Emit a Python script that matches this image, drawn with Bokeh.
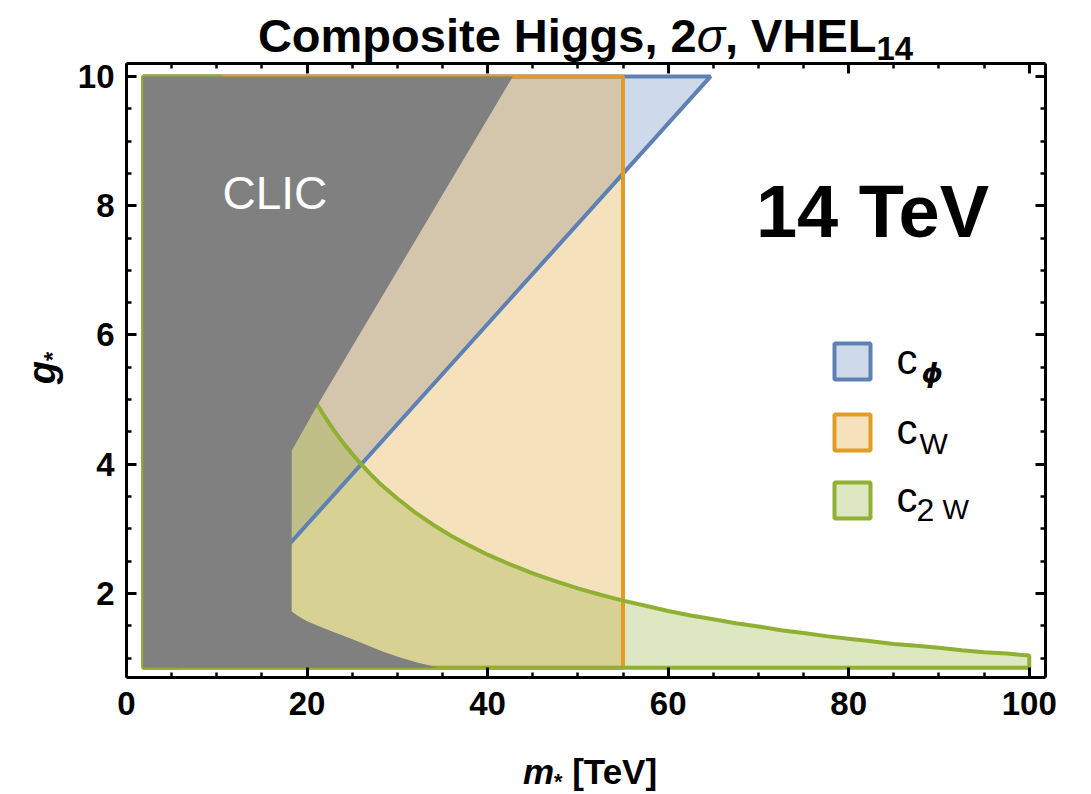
from bokeh.plotting import figure
from bokeh.models import Range1d, LinearAxis, Label, FixedTicker, Div
from bokeh.layouts import column, row
from bokeh.embed import file_html
from bokeh.resources import INLINE

# ---- axis ranges ----------------------------------------------------------
m_lo, m_hi = 0.0, 101.8
g_lo, g_hi = 0.7, 10.2

x_major = [0, 20, 40, 60, 80, 100]
x_minor = [5, 10, 15, 25, 30, 35, 45, 50, 55, 65, 70, 75, 85, 90, 95]
y_major = [2, 4, 6, 8, 10]
y_minor = [1.0, 1.5, 2.5, 3.0, 3.5, 4.5, 5.0, 5.5, 6.5, 7.0, 7.5, 8.5, 9.0, 9.5]

# ---- scanned parameter window ---------------------------------------------
m_min, m_max = 1.85, 100.0
g_min, g_max = 0.85, 10.0

# c_phi: boundary line of the allowed region (excluded to the upper left)
m_cphi = [5.7, 64.7]
g_cphi = [0.85, 10.0]

# c_W: bound on m_*
m_cw = 55.0

# c_2W: boundary curve g_*(m_*)
m_c2w = [10.4, 11, 12, 13, 14, 15, 16, 17, 18, 19, 20, 21, 22, 23, 24, 25,
         26, 27, 28, 29, 30, 32, 34, 36, 38, 40, 42.5, 45, 47.5, 50, 52.5,
         55, 57.5, 60, 62.5, 65, 67.5, 70, 72.5, 75, 77.5, 80, 82.5, 85,
         87.5, 90, 92.5, 95, 97.5, 100]
g_c2w = [10.0, 9.45, 8.67, 8.0, 7.43, 6.93, 6.5, 6.12, 5.78, 5.47, 5.2,
         4.95, 4.73, 4.52, 4.33, 4.16, 4.0, 3.85, 3.71, 3.59, 3.47, 3.25,
         3.06, 2.89, 2.74, 2.6, 2.45, 2.31, 2.19, 2.08, 1.98, 1.89, 1.81,
         1.73, 1.66, 1.6, 1.54, 1.49, 1.43, 1.39, 1.34, 1.3, 1.26, 1.22,
         1.19, 1.16, 1.12, 1.09, 1.07, 1.04]

# CLIC reach (outline of the grey region)
m_clic = [1.85, 42.8, 21.1, 18.3, 18.3, 19.0, 20.0, 21.2, 23.0, 24.9,
          26.8, 28.6, 30.5, 32.3, 33.5, 34.5, 1.85]
g_clic = [10.0, 10.0, 4.9, 4.21, 1.72, 1.65, 1.57, 1.50, 1.40, 1.30,
          1.19, 1.09, 1.00, 0.93, 0.89, 0.85, 0.85]

BLUE = "#5E81B5"
ORANGE = "#E19C24"
GREEN = "#8FB032"
GREY = "#808080"
FONT = "Liberation Sans"

# ---- page geometry ---------------------------------------------------------
W, H = 1091, 794
TITLE_H, XLAB_H, YLAB_W = 50, 50, 70
L, R, T, B = 56, 46, 13, 67
PW, PH = W - YLAB_W, H - TITLE_H - XLAB_H
FW, FH = PW - L - R, PH - T - B
FRAME_LEFT, FRAME_TOP = YLAB_W + L, TITLE_H + T

p = figure(width=PW, height=PH, x_range=Range1d(m_lo, m_hi), y_range=Range1d(g_lo, g_hi),
           output_backend="svg", toolbar_location=None,
           min_border_left=L, min_border_right=R, min_border_top=T, min_border_bottom=B)
p.xgrid.visible = False
p.ygrid.visible = False
p.outline_line_color = None
p.background_fill_color = "white"
p.border_fill_color = None


def px_x(px):
    return m_lo + (px - FRAME_LEFT) / FW * (m_hi - m_lo)


def px_y(py):
    return g_hi - (py - FRAME_TOP) / FH * (g_hi - g_lo)


def style_axis(ax, major, minor, labels, standoff):
    ax.ticker = FixedTicker(ticks=major, minor_ticks=minor)
    ax.axis_line_width = 3
    ax.axis_line_color = "black"
    ax.major_tick_in = 10
    ax.major_tick_out = 0
    ax.major_tick_line_width = 3
    ax.minor_tick_in = 5
    ax.minor_tick_out = 0
    ax.minor_tick_line_width = 2.5
    ax.major_label_text_font = FONT
    ax.major_label_text_font_style = "bold"
    ax.major_label_text_font_size = "33px"
    ax.major_label_text_color = "black"
    ax.major_label_standoff = standoff
    if not labels:
        ax.major_label_overrides = {t: "" for t in major}
        ax.major_label_text_font_size = "0px"


style_axis(p.xaxis[0], x_major, x_minor, True, 14)
style_axis(p.yaxis[0], y_major, y_minor, True, 12)
top_axis = LinearAxis()
right_axis = LinearAxis()
style_axis(top_axis, x_major, x_minor, False, 0)
style_axis(right_axis, y_major, y_minor, False, 0)
p.add_layout(top_axis, "above")
p.add_layout(right_axis, "right")

# ---- regions: fills first, then boundaries, then the CLIC area ----------------
xs_b = [m_min, m_cphi[0], m_cphi[1], m_min]
ys_b = [g_min, g_cphi[0], g_cphi[1], g_max]
xs_o = [m_min, m_cw, m_cw, m_min]
ys_o = [g_min, g_min, g_max, g_max]
xs_g = [m_min, m_max] + m_c2w[::-1] + [m_min]
ys_g = [g_min, g_min] + g_c2w[::-1] + [g_max]

regions = [(xs_b, ys_b, BLUE), (xs_o, ys_o, ORANGE), (xs_g, ys_g, GREEN)]
for xs, ys, col in regions:
    p.patch(xs, ys, fill_color=col, fill_alpha=0.3, line_color=None)
for xs, ys, col in regions:
    p.patch(xs, ys, fill_color=None, line_color=col, line_width=4)

p.patch(m_clic, g_clic, fill_color=GREY, fill_alpha=1.0, line_color=None)

# ---- in-frame texts ------------------------------------------------------------
BASE_SHIFT = 0.39  # alphabetic anchor offset, in em


def label(text, px, baseline, size, style="normal", color="black", align="left", font=FONT):
    p.add_layout(Label(x=px_x(px), y=px_y(baseline - BASE_SHIFT * size), text=text,
                       text_font=font, text_font_size=f"{size}px",
                       text_font_style=style, text_color=color, text_align=align,
                       text_baseline="alphabetic"))


label("CLIC", 222, 210, 46, color="white")
label("14 TeV", 872, 240, 74, style="bold", align="center")

legend_rows = [(BLUE, 361), (ORANGE, 432), (GREEN, 500)]
for col, cy in legend_rows:
    p.rect(x=[px_x(852)], y=[px_y(cy)], width=36, height=36,
           width_units="screen", height_units="screen",
           fill_color=col, fill_alpha=0.3, line_color=col, line_width=4)

label("c", 896, 375, 42)
label("\u03d5", 921, 383, 27, style="bold italic", font="DejaVu Sans")
label("c", 896, 445, 42)
label("W", 919, 455, 30)
label("c", 896, 513, 42)
label("2", 916, 522, 32)
label("W", 942, 520, 28)

# ---- title and axis titles ---------------------------------------------------
txt = f"font-family:'{FONT}';font-weight:bold;line-height:1;white-space:nowrap;color:black;"
sub = "position:relative;top:0.25em;font-size:0.62em;font-style:normal;"

title = Div(width=W, height=TITLE_H, margin=(0, 0, 0, 0),
            styles={"overflow": "visible"}, text=(
    f"<div style=\"{txt}font-size:47px;width:{W - 80}px;margin-left:80px;"
    f"text-align:center;padding-top:12px;\">Composite Higgs, 2"
    f"<i style=\"font-weight:normal\">\u03c3</i>, VHEL"
    f"<span style=\"{sub}font-size:0.7em\">14</span></div>"))

ylab = Div(width=YLAB_W, height=PH, margin=(0, 0, 0, 0), text=(
    f"<div style=\"width:{YLAB_W}px;height:{PH}px;box-sizing:border-box;"
    f"padding-left:14px;padding-bottom:{PH - 2 * (368 - TITLE_H)}px;display:flex;"
    f"align-items:center;justify-content:center;\"><div style=\"{txt}font-size:38px;"
    f"transform:rotate(-90deg);\"><i>g</i><span style=\"{sub}\">*</span></div></div>"))

xlab = Div(width=W, height=XLAB_H, margin=(0, 0, 0, 0), text=(
    f"<div style=\"{txt}font-size:35px;width:{W - 89}px;margin-left:89px;"
    f"text-align:center;padding-top:10px;\"><i>m</i>"
    f"<span style=\"{sub}\">*</span> [TeV]</div>"))

page = column(title, row(ylab, p, spacing=0), xlab, spacing=0)

open("out.html", "w").write(file_html(page, INLINE))
